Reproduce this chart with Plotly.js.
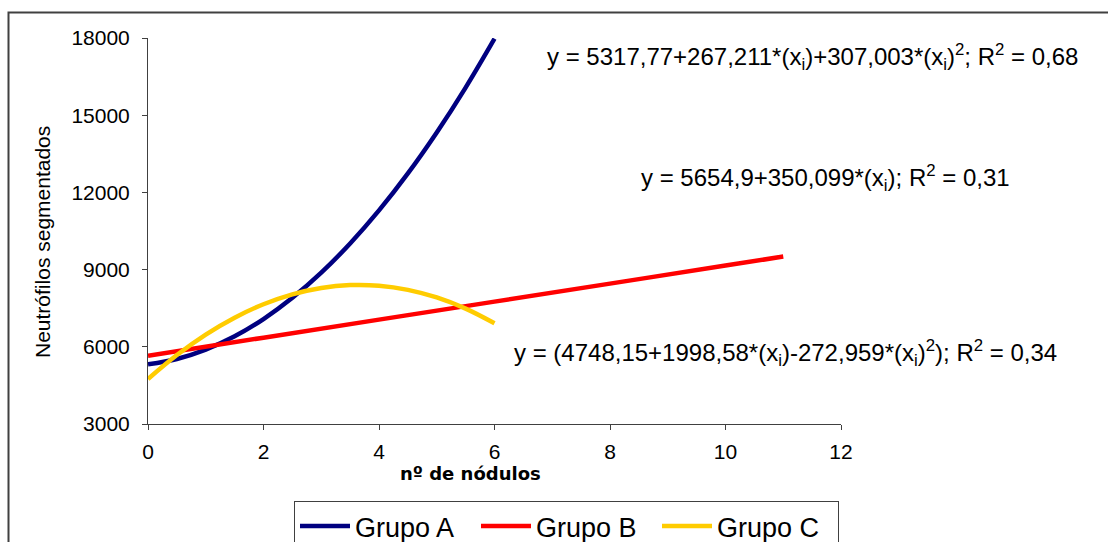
<!DOCTYPE html>
<html>
<head>
<meta charset="utf-8">
<script src="https://cdn.plot.ly/plotly-3.0.1.min.js"></script>
<style>
html,body{margin:0;padding:0;background:#fff;}
#chart{width:1108px;height:542px;}
</style>
</head>
<body>
<div id="chart"></div>
<script>
// Group A fitted curve (quadratic)
const xA = [0, 0.5, 1, 1.5, 2, 2.5, 3, 3.5, 4, 4.5, 5, 5.5, 6];
const yA = [5318, 5528, 5892, 6409, 7080, 7905, 8882, 10014, 11299, 12737, 14329, 16074, 17973];
// Group B fitted line
const xB = [0, 2, 4, 6, 8, 10, 11];
const yB = [5655, 6355, 7055, 7756, 8456, 9156, 9506];
// Group C fitted curve (quadratic)
const xC = [0, 0.5, 1, 1.5, 2, 2.5, 3, 3.5, 4, 4.5, 5, 5.5, 6];
const yC = [4748, 5679, 6474, 7132, 7653, 8039, 8287, 8399, 8375, 8214, 7917, 7483, 6913];

const seriesNames = ["Grupo A", "Grupo B", "Grupo C"];
const equations = [
  "y = 5317,77+267,211*(x<sub>i</sub>)+307,003*(x<sub>i</sub>)<sup>2</sup>; R<sup>2</sup> = 0,68",
  "y = 5654,9+350,099*(x<sub>i</sub>); R<sup>2</sup> = 0,31",
  "y = (4748,15+1998,58*(x<sub>i</sub>)-272,959*(x<sub>i</sub>)<sup>2</sup>); R<sup>2</sup> = 0,34"
];
const yTicks = [3000, 6000, 9000, 12000, 15000, 18000];
const xTicks = [0, 2, 4, 6, 8, 10, 12];
const xTitle = "nº de nódulos";
const yTitle = "Neutrófilos segmentados";

const traces = [
  {x: xA, y: yA, name: seriesNames[0], type: "scatter", mode: "lines",
   line: {color: "#000080", width: 4.5, shape: "spline"}},
  {x: xB, y: yB, name: seriesNames[1], type: "scatter", mode: "lines",
   line: {color: "#FF0000", width: 4.5, shape: "spline"}},
  {x: xC, y: yC, name: seriesNames[2], type: "scatter", mode: "lines",
   line: {color: "#FFCC00", width: 4.5, shape: "spline"}}
];

const L = 148, R = 267, T = 38, B = 118;
const W = 1108 - L - R, H = 542 - T - B;
const px = v => (v - L) / W;
const py = v => (542 - B - v) / H;

const font = "Arial, 'Liberation Sans', sans-serif";

const layout = {
  width: 1108, height: 542,
  margin: {l: L, r: R, t: T, b: B, pad: 0, autoexpand: false},
  paper_bgcolor: "#ffffff",
  plot_bgcolor: "#ffffff",
  font: {family: font, color: "#000000", size: 21},
  showlegend: true,
  legend: {
    orientation: "h",
    x: px(294), xanchor: "left",
    y: py(501), yanchor: "top",
    bordercolor: "#404040", borderwidth: 1,
    bgcolor: "#ffffff",
    font: {family: font, size: 27, color: "#000000"},
    itemwidth: 50,
    entrywidth: 116,
    tracegroupgap: 0
  },
  xaxis: {
    range: [0, 12],
    tickvals: xTicks,
    ticktext: xTicks.map(String),
    showgrid: false, zeroline: false,
    showline: true, linecolor: "#404040", linewidth: 1,
    ticks: "outside", ticklen: 5, tickcolor: "#404040",
    ticklabelstandoff: 4,
    tickfont: {family: font, size: 21, color: "#000000"}
  },
  yaxis: {
    range: [3000, 18000],
    tickvals: yTicks,
    ticktext: yTicks.map(String),
    showgrid: false, zeroline: false,
    showline: true, linecolor: "#404040", linewidth: 1,
    ticks: "outside", ticklen: 5, tickcolor: "#404040",
    ticklabelstandoff: 8,
    tickfont: {family: font, size: 21, color: "#000000"}
  },
  shapes: [
    {type: "rect", xref: "paper", yref: "paper",
     x0: px(8.5), x1: px(1115), y0: py(12.5), y1: py(550),
     line: {color: "#404040", width: 2}, fillcolor: "rgba(0,0,0,0)", layer: "below"}
  ],
  annotations: [
    {text: yTitle, xref: "paper", yref: "paper", x: px(42), y: py(242),
     xanchor: "center", yanchor: "middle", textangle: -90, showarrow: false,
     font: {family: font, size: 21, color: "#000000"}},
    {text: xTitle, xref: "paper", yref: "paper", x: px(470), y: py(473),
     xanchor: "center", yanchor: "middle", showarrow: false,
     font: {family: "'DejaVu Sans', Verdana, sans-serif", size: 18, color: "#000000", weight: "bold"}},
    {text: equations[0], xref: "paper", yref: "paper", x: px(812), y: py(57),
     xanchor: "center", yanchor: "middle", showarrow: false,
     font: {family: font, size: 24, color: "#000000"}},
    {text: equations[1], xref: "paper", yref: "paper", x: px(825), y: py(178),
     xanchor: "center", yanchor: "middle", showarrow: false,
     font: {family: font, size: 24, color: "#000000"}},
    {text: equations[2], xref: "paper", yref: "paper", x: px(785), y: py(353),
     xanchor: "center", yanchor: "middle", showarrow: false,
     font: {family: font, size: 24, color: "#000000"}}
  ]
};

Plotly.newPlot("chart", traces, layout, {displayModeBar: false, staticPlot: true});
</script>
</body>
</html>
